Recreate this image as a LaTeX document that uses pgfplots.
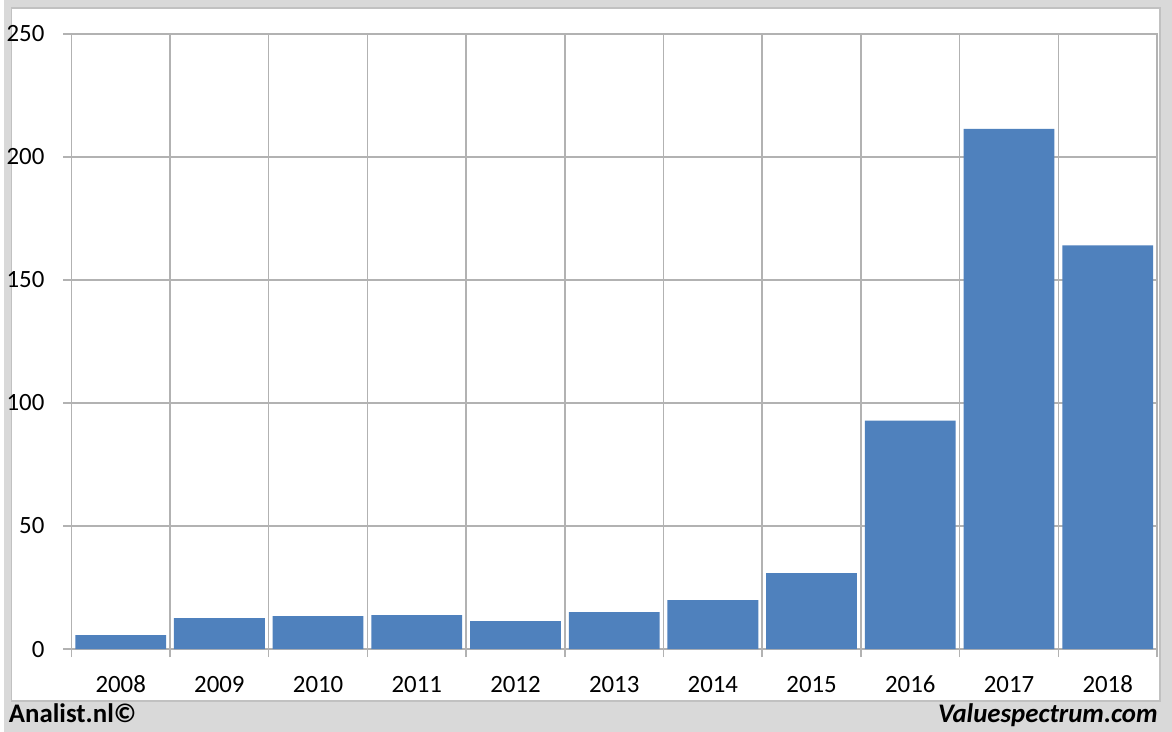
\documentclass[border=0pt]{standalone}
\usepackage{pgfplots}
\pgfplotsset{compat=1.18}
\usepackage{fontspec}
\setmainfont{Carlito}
\definecolor{barblue}{HTML}{4F81BD}
\definecolor{gridgray}{HTML}{B2B2B2}
\definecolor{bggray}{HTML}{D9D9D9}

\begin{document}
\begin{tikzpicture}
% page background and white panel
\fill[bggray] (0,0) rectangle (586bp,367bp);
\filldraw[fill=white, draw=gridgray!80, line width=0.75bp] (4bp,15.5bp) rectangle (580bp,363bp);
\begin{axis}[
   at={(34bp,41.5bp)}, anchor=south west,
   scale only axis,
   width=544.5bp, height=308.5bp,
   xmin=-0.5, xmax=10.5,
   ymin=0, ymax=250,
   ytick={0,50,...,250},
   xtick={0,...,10},
   xticklabels={2008,2009,2010,2011,2012,2013,2014,2015,2016,2017,2018},
   minor xtick={-0.5,0.5,...,10.5},
   xminorgrids, ymajorgrids,
   major x tick style={draw=none},
   tick pos=left, tick align=outside,
   major tick length=4bp, minor tick length=4bp,
   tick style={gridgray, line width=0.75bp},
   grid style={gridgray, line width=0.75bp},
   minor grid style={gridgray, line width=0.75bp},
   axis line style={gridgray, line width=0.75bp},
   ticklabel style={black, font=\fontsize{12.5}{14}\selectfont},
   xticklabel style={anchor=base, yshift=-18bp},
   yticklabel style={xshift=-6bp},
   /pgf/number format/assume math mode=true,
   ybar, bar width=0.92,
]
   \addplot[fill=barblue, draw=none] coordinates {
      (0, 5.7) (1, 12.6) (2, 13.4) (3, 13.8) (4, 11.3) (5, 15.0)
      (6, 19.9) (7, 30.8) (8, 92.8) (9, 211.4) (10, 164.1)
   };
\end{axis}
\node[anchor=base west, font=\bfseries\fontsize{13.5}{15}\selectfont, inner sep=0pt] at (2.5bp,4.5bp) {Analist.nl©};
\node[anchor=base east, font=\bfseries\itshape\fontsize{13.5}{15}\selectfont, inner sep=0pt] at (579bp,4.5bp) {Valuespectrum.com};
\end{tikzpicture}
\end{document}
